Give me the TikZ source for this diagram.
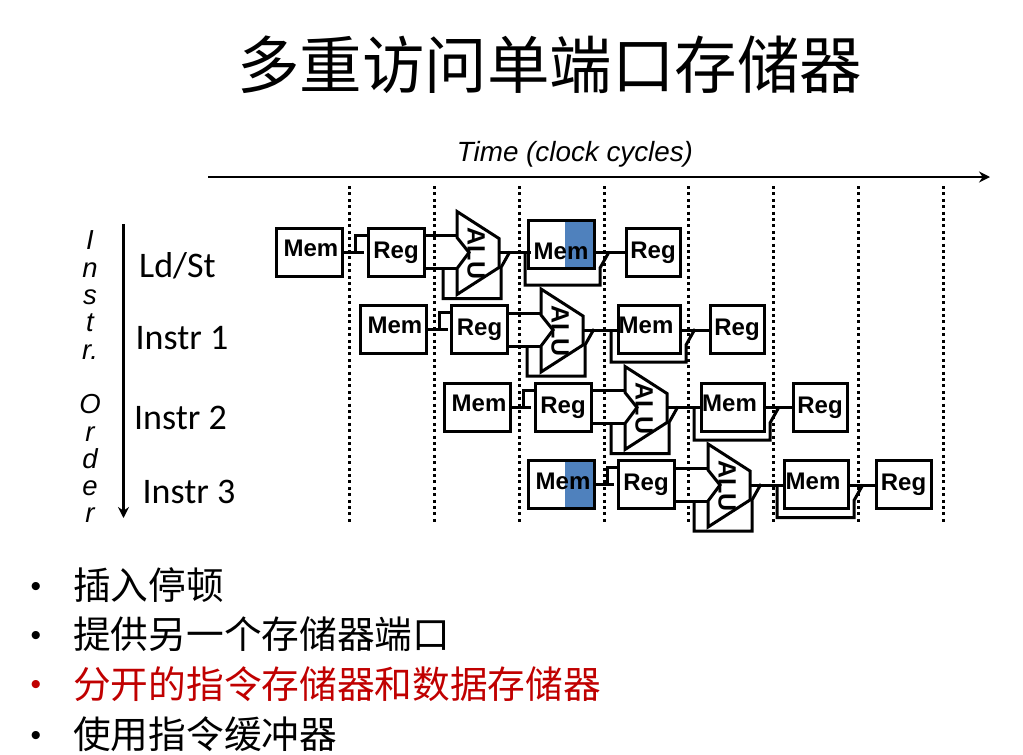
\documentclass[tikz,border=0pt]{standalone}
\usepackage{fontspec}
\setmainfont{Liberation Sans}
\newfontfamily\cjk{Noto Sans CJK SC}
\newfontfamily\calibrilike{Carlito}
\usetikzlibrary{arrows.meta, positioning, calc}

\definecolor{stallblue}{HTML}{4F81BD}
\definecolor{hazardred}{HTML}{C00000}

% ALU body with its input, output and forwarding wires
\newcommand{\alublock}[2]{
  \begin{scope}[shift={(#2)}]
    \draw[wire] (0,0) -- (42,27) -- (42,56) -- (0,83) -- (0,57) -- (12,41) -- (0,26) -- cycle;
    \node[alutxt] (#1) at (19,42) {ALU};
    \coordinate (#1ina) at (0,24);
    \coordinate (#1inb) at (0,57);
    \coordinate (#1out) at (43,41);
    \coordinate (#1by) at (-14,57);
    \coordinate (#1byl) at (-14,87);
    \coordinate (#1byr) at (44,87);
    \coordinate (#1up) at (44,56);
    \coordinate (#1tip) at (53,40);
    \draw[wire] (#1by) -- (#1byl) -- (#1byr) -- (#1up) -- (#1tip);
  \end{scope}
}
% wire that runs under a data memory and back up to the write-back wire
\newcommand{\memwrap}[4]{
  \draw[wire] ($(#1out -| #2.west)+(-#3,0)$) |- ($(#2.south east)+(6,#4)$)
    -- ++(0,-17) -- ++(9,-16);
}

\begin{document}
\begin{tikzpicture}[
  x=1pt, y=-1pt,
  wire/.style={line width=3pt, line join=miter},
  boxbase/.style={draw, line width=3pt, inner sep=0pt, outer sep=0pt,
                  minimum height=48pt, font=\fontsize{24}{24}\selectfont\bfseries},
  memst/.style={boxbase, minimum width=66pt, text height=18pt, text depth=9pt},
  regst/.style={boxbase, minimum width=56pt, text height=18pt, text depth=6pt},
  stalled/.style={path picture={\fill[stallblue]
      ($(path picture bounding box.north east)+(-29,0)$)
      rectangle (path picture bounding box.south east);}},
  alutxt/.style={rotate=-90, inner sep=0pt, text height=17pt, text depth=0pt,
                 font=\fontsize{25}{25}\selectfont\bfseries},
  slot/.style={line width=3pt, dash pattern=on 3pt off 3.4pt},
  instr/.style={font=\calibrilike\fontsize{36}{36}\selectfont, inner sep=0pt},
  item/.style={anchor=west, inner sep=0pt, font=\cjk\fontsize{37.7}{37.7}\selectfont},
  dotmark/.style={inner sep=0pt, font=\fontsize{30}{30}\selectfont}
]
  \useasboundingbox (0,0) rectangle (1023,755);

  % Title
  \node[font=\cjk\fontsize{62.5}{62.5}\selectfont, inner sep=0pt] (title) at (549.5,65) {多重访问单端口存储器};

  % Time axis
  \node[font=\fontsize{27.8}{27.8}\selectfont\itshape, inner sep=0pt] (timelbl) at (575,154.5) {Time (clock cycles)};
  \coordinate (tstart) at (208,177);
  \coordinate (tend) at (990,177);
  \draw[line width=2.6pt, -{Stealth[length=11pt, width=11pt]}] (tstart) -- (tend);

  % Cycle boundaries
  \foreach \xx in {349,434,519,604,688,773,858,943} {
    \draw[slot] (\xx,186) -- (\xx,522);
  }

  % Instruction order axis
  \node[font=\fontsize{27.5}{27.3}\selectfont\itshape, align=center, inner sep=0pt] (orderlbl) at (90,377)
    {I\\n\\s\\t\\r.\\[27.3pt]O\\r\\d\\e\\r};
  \coordinate (ostart) at (123.5,224);
  \coordinate (oend) at (123.5,518);
  \draw[line width=2.8pt, -{Stealth[length=11pt, width=11pt]}] (ostart) -- (oend);

  \node[instr] (ldst) at (177.5,266) {Ld/St};
  \node[instr] (ins1) at (182,338) {Instr 1};
  \node[instr] (ins2) at (180.5,418) {Instr 2};
  \node[instr] (ins3) at (189,492) {Instr 3};

  % Ld/St row
  \node[memst] (mem1) at (309,252) {\kern4pt Mem};
  \node[regst] (reg1) at (396,252) {Reg};
  \alublock{alu1}{457,211.5}
  \node[memst, stalled, text height=30pt, text depth=0pt] (dmem1) at (561,244) {Mem};
  \node[regst, minimum width=54pt] (wb1) at (653,252) {Reg};
  \draw[wire, shorten >=4pt] (mem1.east) -- (reg1.west);
  \draw[wire] ($(mem1.east)+(13,0)$) |- ($(reg1.west)+(0,-17)$);
  \draw[wire] (alu1ina -| reg1.east) -- (alu1ina);
  \draw[wire] (alu1inb -| reg1.east) -- (alu1inb);
  \draw[wire] (alu1out) -- ($(alu1out -| dmem1.west)+(3,0)$);
  \memwrap{alu1}{dmem1}{3}{17}
  \draw[wire] (alu1out -| dmem1.east) -- (alu1out -| wb1.west);

  % Instr 1 row
  \node[memst] (mem2) at (393,329) {\kern4pt Mem};
  \node[regst] (reg2) at (479.5,329) {Reg};
  \alublock{alu2}{541,289}
  \node[memst, minimum width=62pt] (dmem2) at (649,329) {Mem\kern6pt};
  \node[regst, minimum width=54pt] (wb2) at (737,329) {Reg};
  \draw[wire, shorten >=4pt] (mem2.east) -- (reg2.west);
  \draw[wire] ($(mem2.east)+(13,0)$) |- ($(reg2.west)+(0,-17)$);
  \draw[wire] (alu2ina -| reg2.east) -- (alu2ina);
  \draw[wire] (alu2inb -| reg2.east) -- (alu2inb);
  \draw[wire] (alu2out) -- (alu2out -| dmem2.west);
  \memwrap{alu2}{dmem2}{7}{9}
  \draw[wire] (alu2out -| dmem2.east) -- (alu2out -| wb2.west);

  % Instr 2 row
  \node[memst] (mem3) at (477,407) {\kern4pt Mem};
  \node[regst] (reg3) at (563,407) {Reg};
  \alublock{alu3}{625,366.5}
  \node[memst, minimum width=63pt] (dmem3) at (732.5,407) {Mem\kern6pt};
  \node[regst, minimum width=54pt] (wb3) at (820,407) {Reg};
  \draw[wire, shorten >=4pt] (mem3.east) -- (reg3.west);
  \draw[wire] ($(mem3.east)+(13,0)$) |- ($(reg3.west)+(0,-17)$);
  \draw[wire] (alu3ina -| reg3.east) -- (alu3ina);
  \draw[wire] (alu3inb -| reg3.east) -- (alu3inb);
  \draw[wire] (alu3out) -- (alu3out -| dmem3.west);
  \memwrap{alu3}{dmem3}{7}{9}
  \draw[wire] (alu3out -| dmem3.east) -- (alu3out -| wb3.west);

  % Instr 3 row
  \node[memst, stalled] (mem4) at (561,484.5) {\kern4pt Mem};
  \node[regst] (reg4) at (646,484.5) {Reg};
  \alublock{alu4}{708,444}
  \node[memst, minimum width=64pt] (dmem4) at (816,484.5) {Mem\kern6pt};
  \node[regst, minimum width=55pt] (wb4) at (903.5,484.5) {Reg};
  \draw[wire, shorten >=4pt] (mem4.east) -- (reg4.west);
  \draw[wire] ($(mem4.east)+(13,0)$) |- ($(reg4.west)+(0,-17)$);
  \draw[wire] (alu4ina -| reg4.east) -- (alu4ina);
  \draw[wire] (alu4inb -| reg4.east) -- (alu4inb);
  \draw[wire] (alu4out) -- (alu4out -| dmem4.west);
  \memwrap{alu4}{dmem4}{7}{9}
  \draw[wire] (alu4out -| dmem4.east) -- (alu4out -| wb4.west);

  % Options list
  \node[dotmark] (dot1) at (36,589) {•};
  \node[item] (opt1) at (73,585) {插入停顿};
  \node[dotmark] (dot2) at (36,638) {•};
  \node[item] (opt2) at (73,634) {提供另一个存储器端口};
  \node[dotmark, text=hazardred] (dot3) at (36,687) {•};
  \node[item, text=hazardred] (opt3) at (73,684) {分开的指令存储器和数据存储器};
  \node[dotmark] (dot4) at (36,738) {•};
  \node[item] (opt4) at (73,734) {使用指令缓冲器};
\end{tikzpicture}
\end{document}
